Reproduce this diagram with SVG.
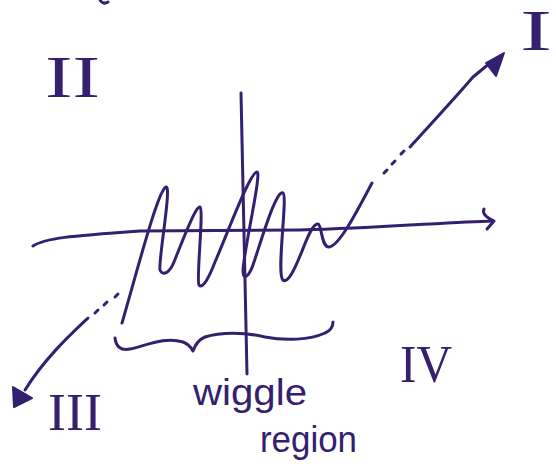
<svg xmlns="http://www.w3.org/2000/svg" width="556" height="476" viewBox="0 0 556 476">
<style>
.ink{fill:none;stroke:#34206f;stroke-width:3;stroke-linecap:round;stroke-linejoin:round}
.head{fill:#34206f;stroke:#34206f;stroke-width:2;stroke-linejoin:round}
.num{font-family:"Liberation Serif","DejaVu Serif",serif;fill:#34206f}
.word{font-family:"Liberation Sans","DejaVu Sans",sans-serif;fill:#34206f}
</style>
<rect width="556" height="476" fill="#ffffff"/>
<g id="stray">
<path class="ink" d="M100,0 Q103,5 108,2"/>
</g>
<g id="axes">
<path class="ink" d="M33,246 C45,238 70,236 140,231 L300,230 C380,228 450,222 493,221"/>
<path class="ink" d="M484,209 Q481,215 494,221 L487,229"/>
<path class="ink" d="M241,93 L247,374"/>
</g>
<g id="wiggle">
<path class="ink" d="M122,323 C138,268 158,190 166,187 C172,185 158,262 160,270 C163,277 170,272 174,262 C182,242 196,205 200,207 C204,210 196,280 199,285 C203,290 210,275 215,262 C228,232 250,172 257,172 C262,172 244,250 243,270 C243,283 250,275 254,262 C262,238 276,190 283,193 C288,196 276,275 283,280 C288,284 295,268 300,256 C305,244 312,223 318,224 C322,225 321,247 329,247 C340,246 360,205 372,183"/>
</g>
<g id="connectors">
<path class="ink" d="M384,173 L387,170 M392,164 L395,161 M401,154 L404,151"/>
<path class="ink" d="M410,147 C430,125 455,98 473,77 L490,63"/>
<polygon class="head" points="504,53 486,63 496,76"/>
<path class="ink" d="M118,294 L115,297 M107,302 L104,305 M98,310 L95,313"/>
<path class="ink" d="M88,318 C70,335 45,358 25,390"/>
<polygon class="head" points="14,407 13,387 32,398"/>
</g>
<g id="brace">
<path class="ink" d="M115,338 C116,346 120,351 130,349 C145,346 165,336 183,342 C188,344 191,347 193,351 C195,345 198,340 205,337 C220,332 245,332 265,337 C285,341 310,340 325,333 C332,330 333,326 333,322"/>
</g>
<g id="label-I"><text class="num" x="520" y="50" font-size="56" textLength="32" lengthAdjust="spacingAndGlyphs">I</text></g>
<g id="label-II"><text class="num" x="45" y="97" font-size="60" textLength="55" lengthAdjust="spacingAndGlyphs">II</text></g>
<g id="label-III"><text class="num" x="48" y="430" font-size="52" textLength="54" lengthAdjust="spacingAndGlyphs">III</text></g>
<g id="label-IV"><text class="num" x="400" y="382" font-size="52" textLength="52" lengthAdjust="spacingAndGlyphs">IV</text></g>
<g id="label-wiggle">
<text class="word" x="193" y="405" font-size="36" textLength="114" lengthAdjust="spacingAndGlyphs">wiggle</text>
<text class="word" x="260" y="452" font-size="36" textLength="97" lengthAdjust="spacingAndGlyphs">region</text>
</g>
</svg>
